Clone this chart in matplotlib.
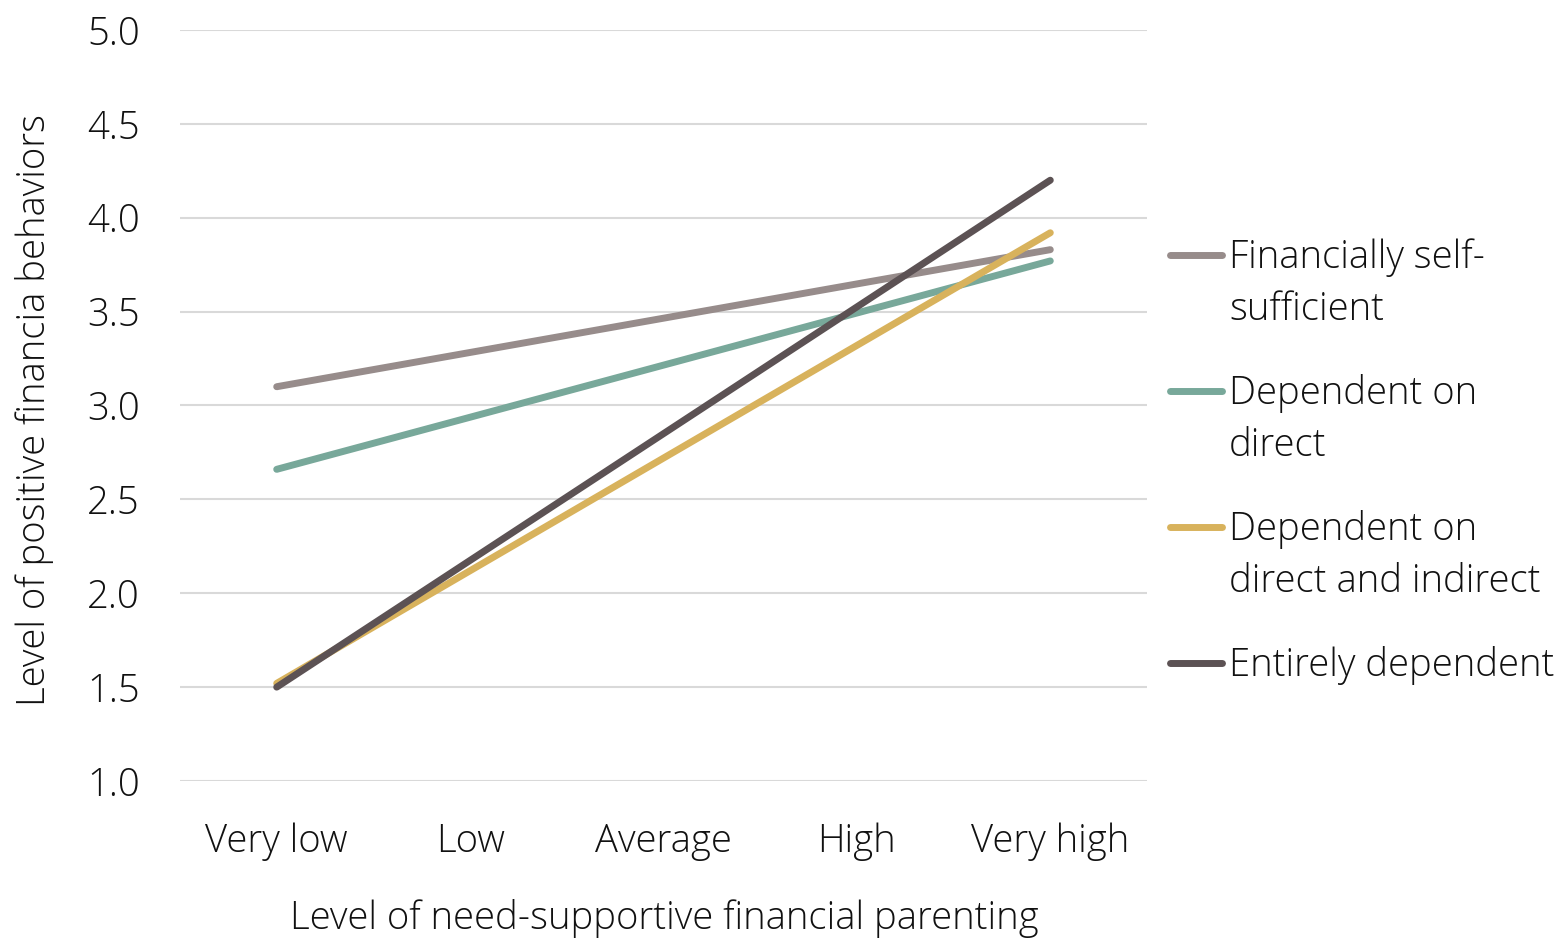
import numpy as np
import matplotlib
matplotlib.use('Agg')
import matplotlib.pyplot as plt
from matplotlib.lines import Line2D

plt.rcParams['font.family'] = ['Open Sans', 'DejaVu Sans']
plt.rcParams['font.weight'] = 'light'

# Categories on the x axis
categories = ['Very low', 'Low', 'Average', 'High', 'Very high']

# Each group is a straight simple-slope line from "Very low" to "Very high"
slope_ends = [0, 4]
self_sufficient = [3.10, 3.83]
dependent_direct = [2.66, 3.77]
dependent_direct_indirect = [1.52, 3.92]
entirely_dependent = [1.50, 4.20]

series_labels = [
    ['Financially self-', 'sufficient'],
    ['Dependent on', 'direct'],
    ['Dependent on', 'direct and indirect'],
    ['Entirely dependent'],
]
series_values = [self_sufficient, dependent_direct,
                 dependent_direct_indirect, entirely_dependent]
series_colors = ['#978C8B', '#78A89A', '#D8B25C', '#5C5254']

FS = 27.5
W, H = 1563, 944
fig = plt.figure(figsize=(W / 100, H / 100), dpi=100)
ax = fig.add_axes([180 / W, 1 - 781 / H, (1147 - 180) / W, (781 - 30) / H])

for vals, col in zip(series_values, series_colors):
    ax.plot(slope_ends, vals, color=col, lw=5, solid_capstyle='round', zorder=3)

ax.set_xlim(-0.5, 4.5)
ax.set_ylim(1.0, 5.0)
ax.set_yticks(np.arange(1.0, 5.01, 0.5))
ax.set_yticklabels([f'{v:.1f}' for v in np.arange(1.0, 5.01, 0.5)])
ax.set_xticks(range(len(categories)))
ax.set_xticklabels(categories)
ax.tick_params(axis='both', length=0, labelsize=FS, colors='#111111')
ax.tick_params(axis='y', pad=29)
ax.tick_params(axis='x', pad=30)
ax.grid(axis='y', color='#d9d9d9', lw=1.5)
ax.set_axisbelow(True)
for s in ax.spines.values():
    s.set_visible(False)

fig.text(664 / W, 1 - 919 / H, 'Level of need-supportive financial parenting',
         ha='center', va='center', fontsize=FS, color='#111111')
fig.text(35 / W, 1 - 410 / H, 'Level of positive financia behaviors',
         ha='center', va='center', rotation=90, fontsize=FS, color='#111111')

# Legend drawn by hand so the wrapped labels sit like the original
legend_y = [255, 391, 527, 663]
line_gap = 52
for lines, col, y in zip(series_labels, series_colors, legend_y):
    fig.add_artist(Line2D([1170 / W, 1222 / W], [1 - y / H, 1 - y / H],
                          transform=fig.transFigure, color=col, lw=5,
                          solid_capstyle='round'))
    for i, txt in enumerate(lines):
        fig.text(1229 / W, 1 - (y + 13 + i * line_gap) / H, txt,
                 ha='left', va='baseline', fontsize=FS, color='#111111')

fig.savefig('out.png', dpi=100)
